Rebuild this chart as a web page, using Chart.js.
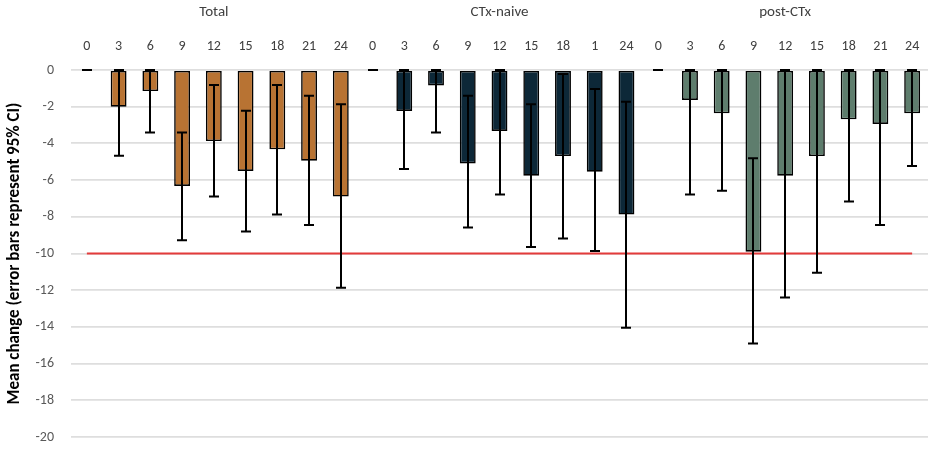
<!DOCTYPE html>
<html>
<head>
<meta charset="utf-8">
<script src="https://cdn.jsdelivr.net/npm/chart.js@4.4.1/dist/chart.umd.min.js"></script>
<style>
  html, body { margin: 0; padding: 0; background: #ffffff; }
  #wrap { width: 928px; height: 453px; }
</style>
</head>
<body>
<div id="wrap"><canvas id="c" width="928" height="453"></canvas></div>
<script>
// ---- data ----
const groups = ['Total', 'CTx-naive', 'post-CTx'];
const totalLabels = ['0', '3', '6', '9', '12', '15', '18', '21', '24'];
const naiveLabels = ['0', '3', '6', '9', '12', '15', '18', '1', '24'];
const postLabels  = ['0', '3', '6', '9', '12', '15', '18', '21', '24'];

const totalMean = [0, -2.0, -1.15, -6.32, -3.87, -5.5, -4.32, -4.94, -6.9];
const totalLow  = [0, -4.67, -3.4, -9.28, -6.9, -8.8, -7.87, -8.45, -11.86];
const totalHigh = [0, 0, 0, -3.4, -0.82, -2.22, -0.82, -1.4, -1.87];

const naiveMean = [0, -2.23, -0.84, -5.09, -3.32, -5.76, -4.69, -5.54, -7.88];
const naiveLow  = [0, -5.4, -3.4, -8.58, -6.78, -9.65, -9.18, -9.86, -14.05];
const naiveHigh = [0, 0, 0, -1.4, 0, -1.87, -0.22, -1.04, -1.73];

const postMean = [0, -1.63, -2.36, -9.9, -5.76, -4.69, -2.69, -2.94, -2.36];
const postLow  = [0, -6.78, -6.58, -14.9, -12.4, -11.05, -7.16, -8.45, -5.23];
const postHigh = [0, 0, 0, -4.81, 0, 0, 0, 0, 0];

const threshold = -10;
const yTicks = [0, -2, -4, -6, -8, -10, -12, -14, -16, -18, -20];

// ---- styles ----
const groupColors = ['#B87333', '#0D2838', '#5E7D6D'];
const FONT = "Carlito, Lato, 'Open Sans', sans-serif";

// ---- build library data from the arrays ----
const labelSets = [totalLabels, naiveLabels, postLabels];
const meanSets = [totalMean, naiveMean, postMean];
const lowSets = [totalLow, naiveLow, postLow];
const highSets = [totalHigh, naiveHigh, postHigh];

const labels = [], means = [], lows = [], highs = [], colors = [];
labelSets.forEach((set, g) => {
  set.forEach((lab, i) => {
    labels.push(lab);
    means.push(meanSets[g][i]);
    lows.push(lowSets[g][i]);
    highs.push(highSets[g][i]);
    colors.push(groupColors[g]);
  });
});
const refLine = labels.map(() => threshold);

const errorBars = {
  id: 'errorBars',
  afterDatasetsDraw(chart) {
    const ctx = chart.ctx, xs = chart.scales.x, ys = chart.scales.y;
    ctx.save();
    ctx.strokeStyle = '#000000';
    ctx.lineWidth = 2;
    ctx.lineCap = 'butt';
    const cap = 5;
    for (let i = 0; i < labels.length; i++) {
      const x = Math.round(xs.getPixelForValue(i));
      const yl = ys.getPixelForValue(lows[i]);
      const yh = ys.getPixelForValue(highs[i]);
      ctx.beginPath();
      ctx.moveTo(x, yh); ctx.lineTo(x, yl);
      ctx.moveTo(x - cap, yl); ctx.lineTo(x + cap, yl);
      ctx.moveTo(x - cap, yh); ctx.lineTo(x + cap, yh);
      ctx.stroke();
    }
    ctx.restore();
  }
};

const groupTitles = {
  id: 'groupTitles',
  afterDraw(chart) {
    const ctx = chart.ctx, xs = chart.scales.x;
    ctx.save();
    ctx.font = '15px ' + FONT;
    ctx.fillStyle = '#404040';
    ctx.textAlign = 'center';
    ctx.textBaseline = 'middle';
    let start = 0;
    groups.forEach((g, gi) => {
      const n = labelSets[gi].length;
      const mid = (xs.getPixelForValue(start) + xs.getPixelForValue(start + n - 1)) / 2;
      ctx.fillText(g, mid, 12);
      start += n;
    });
    ctx.restore();
  }
};

new Chart(document.getElementById('c'), {
  data: {
    labels: labels,
    datasets: [
      {
        type: 'line',
        data: refLine,
        borderColor: '#E33B3B',
        borderWidth: 2,
        pointRadius: 0,
        fill: false,
        order: 0
      },
      {
        type: 'bar',
        data: means,
        backgroundColor: colors,
        borderColor: '#000000',
        borderWidth: 1.6,
        borderSkipped: false,
        barPercentage: 0.5,
        categoryPercentage: 1.0,
        order: 1
      }
    ]
  },
  options: {
    responsive: false,
    animation: false,
    layout: { padding: { left: 0, right: 0, top: 0, bottom: 16 } },
    plugins: { legend: { display: false }, tooltip: { enabled: false } },
    scales: {
      x: {
        type: 'category',
        position: 'top',
        grid: { display: false, drawTicks: false },
        border: { display: false },
        ticks: {
          color: '#404040',
          font: { family: FONT, size: 14 },
          padding: 15,
          maxRotation: 0,
          autoSkip: false
        },
        afterFit(s) { s.height = 70; s.paddingLeft = 0; s.paddingRight = 0; }
      },
      y: {
        min: -20,
        max: 0,
        grid: { color: '#DEDEDE', lineWidth: 1.8, drawTicks: false },
        border: { display: false },
        afterBuildTicks(s) { s.ticks = yTicks.map(v => ({ value: v })); },
        ticks: {
          color: '#595959',
          font: { family: FONT, size: 14 },
          padding: 17
        },
        title: {
          display: true,
          text: 'Mean change (error bars represent 95% CI)',
          color: '#000000',
          font: { family: FONT, size: 17, weight: 'bold' },
          padding: { top: 5, bottom: 0 }
        },
        afterFit(s) { s.width = 71; s.paddingTop = 0; s.paddingBottom = 0; }
      }
    }
  },
  plugins: [errorBars, groupTitles]
});
</script>
</body>
</html>
